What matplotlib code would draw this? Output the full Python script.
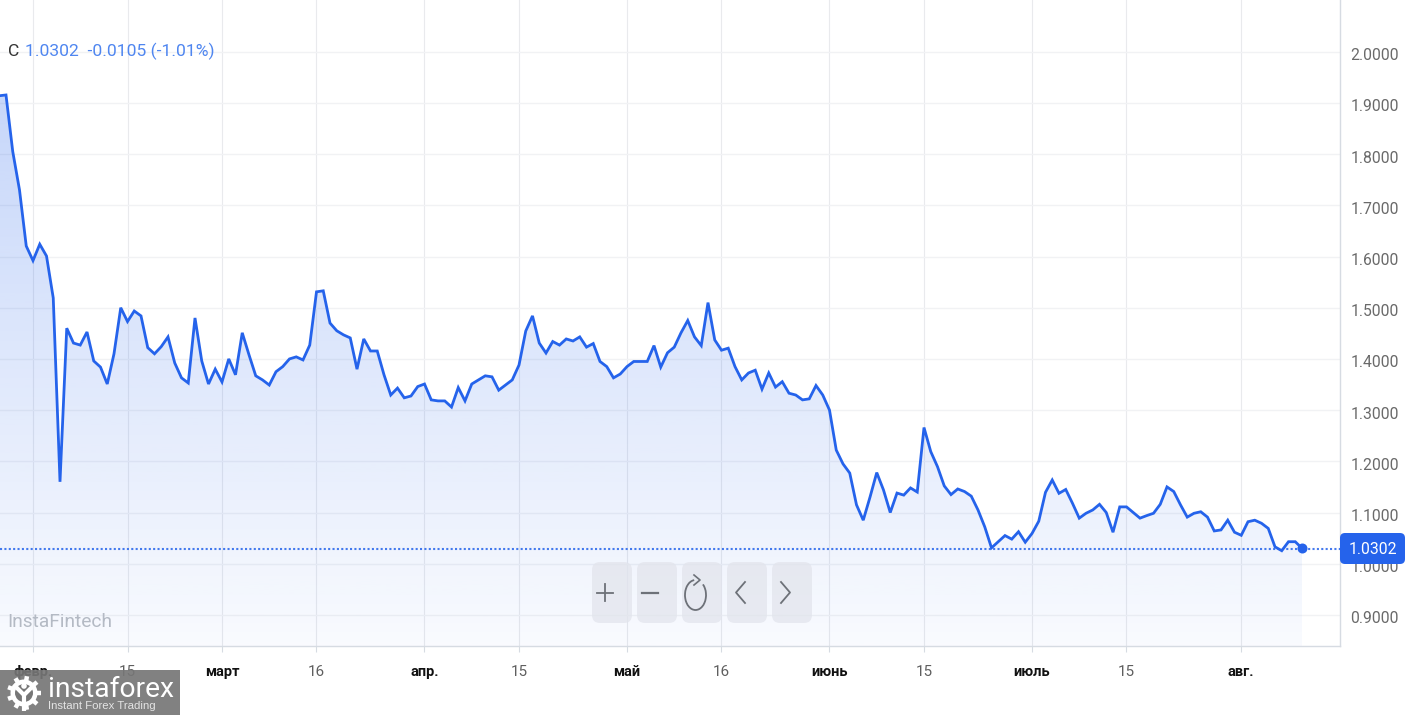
import numpy as np
import matplotlib
matplotlib.use('Agg')
import matplotlib.pyplot as plt
from matplotlib.patches import Rectangle, FancyBboxPatch, Circle, Arc
from matplotlib.transforms import ScaledTranslation

# Daily close values, first point at the left edge
close_values = [
    1.914, 1.9155, 1.805, 1.730, 1.6205, 1.592, 1.624, 1.601, 1.519, 1.160,
    1.460, 1.431, 1.427, 1.4526, 1.396, 1.384, 1.351, 1.410, 1.500, 1.473,
    1.4936, 1.484, 1.422, 1.410, 1.424, 1.443, 1.392, 1.363, 1.353, 1.480,
    1.396, 1.351, 1.380, 1.355, 1.400, 1.369, 1.451, 1.408, 1.367, 1.359,
    1.349, 1.375, 1.385, 1.400, 1.404, 1.398, 1.427, 1.531, 1.533, 1.470,
    1.455, 1.447, 1.441, 1.380, 1.439, 1.4155, 1.4155, 1.369, 1.3295, 1.343,
    1.324, 1.3276, 1.346, 1.351, 1.320, 1.318, 1.318, 1.306, 1.344, 1.318,
    1.351, 1.359, 1.367, 1.365, 1.339, 1.349, 1.359, 1.388, 1.4545, 1.484,
    1.431, 1.4115, 1.434, 1.427, 1.439, 1.435, 1.443, 1.423, 1.430, 1.395,
    1.385, 1.363, 1.3705, 1.385, 1.395, 1.395, 1.395, 1.426, 1.384, 1.412,
    1.423, 1.451, 1.475, 1.443, 1.426, 1.510, 1.437, 1.417, 1.421, 1.385,
    1.359, 1.3725, 1.378, 1.341, 1.3725, 1.345, 1.3555, 1.333, 1.3295, 1.320,
    1.322, 1.348, 1.3295, 1.300, 1.222, 1.195, 1.177, 1.115, 1.085, 1.130,
    1.178, 1.144, 1.100, 1.138, 1.134, 1.148, 1.140, 1.266, 1.219, 1.1895,
    1.152, 1.135, 1.146, 1.141, 1.132, 1.105, 1.072, 1.031, 1.043, 1.055,
    1.048, 1.0625, 1.042, 1.059, 1.083, 1.1395, 1.1635, 1.1375, 1.145, 1.118,
    1.089, 1.0985, 1.105, 1.116, 1.100, 1.0615, 1.111, 1.111, 1.100, 1.089,
    1.094, 1.0985, 1.116, 1.150, 1.141, 1.115, 1.091, 1.0985, 1.1015, 1.091,
    1.064, 1.066, 1.085, 1.0615, 1.0555, 1.082, 1.085, 1.079, 1.069, 1.033,
    1.0254, 1.043, 1.043, 1.0302,
]
last_price = 1.0302
y_ticks = [0.9, 1.0, 1.1, 1.2, 1.3, 1.4, 1.5, 1.6, 1.7, 1.8, 1.9, 2.0]
x_tick_index = [5, 19, 33, 47, 63, 77, 93, 107, 123, 137, 153, 167, 184]
x_tick_labels = ['февр.', '15', 'март', '16', 'апр.', '15', 'май', '16',
                 'июнь', '15', 'июль', '15', 'авг.']
buttons_left = [592, 637, 682, 727, 772]

BLUE = '#2563eb'
GRID = '#f1f2f4'
AXIS = '#d6dbe2'
FONT = ['Roboto', 'DejaVu Sans']

W, H = 1406, 715
AX_W, AX_H = 1340, 646

fig = plt.figure(figsize=(W / 100, H / 100), dpi=100, facecolor='white')
ax = fig.add_axes([0, 1 - AX_H / H, AX_W / W, AX_H / H])

# Line and gradient area
x = np.arange(len(close_values))
poly = ax.fill_between(x, close_values, 0.5, color='none', lw=0, zorder=2)
grad = np.zeros((256, 1, 4))
grad[..., :3] = matplotlib.colors.to_rgb(BLUE)
grad[..., 3] = np.linspace(0.26, 0.03, 256).reshape(-1, 1)
im = ax.imshow(grad, extent=[0, len(x) - 1, 0.8393, 1.92], aspect='auto',
               origin='upper', zorder=2, interpolation='bilinear')
im.set_clip_path(poly.get_paths()[0], transform=ax.transData)
ax.plot(x, close_values, color=BLUE, lw=2.0, solid_joinstyle='miter', zorder=4)
ax.plot(x[-1], last_price, 'o', color=BLUE, ms=7.2, mew=0, zorder=5)
ax.axhline(last_price - 0.002, color=BLUE, lw=1.5, ls=(0, (1, 1.1)), alpha=0.85, zorder=3)

ax.set_xlim(0.111, 198.63)
ax.set_ylim(0.8393, 2.101)
ax.grid(True, color=GRID, lw=1, zorder=0)
ax.xaxis.grid(True, color='#e9eaed', lw=0.8)
ax.set_axisbelow(True)

for side in ['top', 'left']:
    ax.spines[side].set_visible(False)
for side in ['right', 'bottom']:
    ax.spines[side].set_color(AXIS)
    ax.spines[side].set_linewidth(1.0)

ax.yaxis.tick_right()
ax.set_yticks(y_ticks)
ax.set_yticklabels(['%.4f' % v for v in y_ticks], family=FONT, fontsize=11.3, color='#6a6a6a')
ax.tick_params(axis='y', length=0, pad=7.5)
shift_down = ScaledTranslation(0, -2.5 / 100, fig.dpi_scale_trans)
for lab in ax.get_yticklabels():
    lab.set_transform(lab.get_transform() + shift_down)
ax.set_xticks(x_tick_index)
ax.set_xticklabels(x_tick_labels, family=FONT, fontsize=11)
ax.tick_params(axis='x', length=4, width=0.8, color=AXIS, pad=10)
for lab in ax.get_xticklabels():
    if lab.get_text().isdigit():
        lab.set_color('#5f5f5f')
    else:
        lab.set_color('#111111')
        lab.set_fontsize(10.5)
        lab.set_fontweight('bold')

# Overlay in picture pixels for the widgets and the watermark
ov = fig.add_axes([0, 0, 1, 1], facecolor='none')
ov.set_xlim(0, W)
ov.set_ylim(H, 0)
ov.axis('off')

ov.text(8, 51, 'C', family=FONT, fontsize=12.6, color='#333333', va='center')
ov.text(25, 51, '1.0302  -0.0105 (-1.01%)', family=FONT, fontsize=12.6, color='#4f86f0', va='center')
ov.text(7, 622, 'InstaFintech', family=FONT, fontsize=13.8, color='#b4bac4', va='center')

# Price tag on the axis
ov.add_patch(FancyBboxPatch((1340, 533), 65, 31, boxstyle='round,pad=0,rounding_size=5',
                            fc=BLUE, ec='none', zorder=6))
ov.text(1373, 549, '1.0302', family=FONT, fontsize=11.3, color='white', ha='center', va='center', zorder=7)

# Zoom buttons
for left in buttons_left:
    ov.add_patch(FancyBboxPatch((left, 562), 40, 61, boxstyle='round,pad=0,rounding_size=8',
                                fc='#e2e4ec', ec='none', alpha=0.72, zorder=6))
ICON = '#6d7178'
ov.plot([597, 613], [592.5, 592.5], color=ICON, lw=1.3, zorder=7)
ov.plot([605, 605], [584, 601], color=ICON, lw=1.3, zorder=7)
ov.plot([642, 658], [592.5, 592.5], color=ICON, lw=1.6, zorder=7)
ov.add_patch(Arc((695.5, 595), 21, 30, theta1=-55, theta2=265, color=ICON, lw=1.3, zorder=7))
ov.plot([694, 700, 694], [575, 580, 585], color=ICON, lw=1.2, zorder=7)
ov.plot([745, 736, 745], [582, 592.5, 603], color=ICON, lw=1.3, zorder=7)
ov.plot([781, 790, 781], [582, 592.5, 603], color=ICON, lw=1.3, zorder=7)

# Watermark
ov.add_patch(Rectangle((0, 670), 180, 45, fc='#767676', ec='none', alpha=0.92, zorder=8))
for ang in np.arange(0, 360, 40):
    c, s = np.cos(np.radians(ang)), np.sin(np.radians(ang))
    ov.plot([24 + 10 * c, 24 + 17 * c], [693 + 10 * s, 693 + 17 * s], color='white', lw=3.2,
            solid_capstyle='butt', zorder=9)
ov.add_patch(Circle((24, 693), 13.5, fc='white', ec='none', zorder=9))
ov.add_patch(Circle((24, 693), 9, fc='#767676', ec='none', zorder=9))
ov.plot([24, 24], [695, 711], color='white', lw=3, zorder=10, solid_capstyle='butt')
ov.plot([15, 24, 33], [686, 695, 686], color='white', lw=3, zorder=10)
ov.add_patch(Circle((24, 686), 2.8, fc='white', ec='none', zorder=10))
ov.text(48, 689.5, 'instaforex', family=FONT, fontsize=20.3, color='white', va='center', zorder=9)
ov.text(48, 706, 'Instant Forex Trading', family='Liberation Sans', fontsize=8.2, color='#e4e4e4',
        va='center', zorder=9)

fig.savefig('out.png', dpi=100)
